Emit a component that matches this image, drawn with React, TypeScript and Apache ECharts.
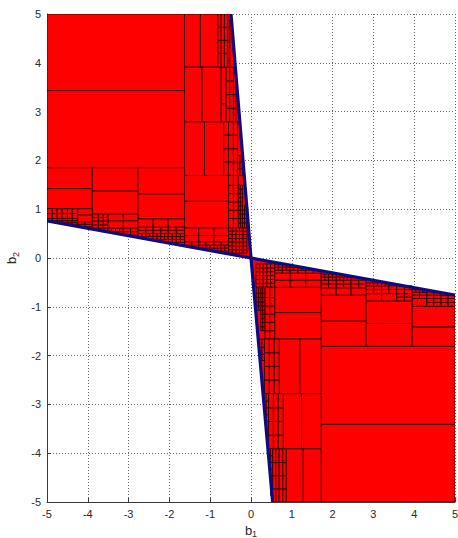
import React, { useEffect, useRef } from "react";
import * as echarts from "echarts";

type Box = [number, number, number, number]; // x1, x2, y1, y2
type Grid = { xs: number[]; ys: number[] };

const axisMin = -5;
const axisMax = 5;
const axisStep = 1;

// feasible regions (outer boundary)
const upperLeftRegion: [number, number][] = [[-5, 5], [-0.49, 5], [0, 0], [-5, 0.76]];
const lowerRightRegion: [number, number][] = [[5, -5], [0.53, -5], [0, 0], [5, -0.76]];

// boundary (blue) segments
const boundarySegments: [number, number][][] = [
  [[-5, 0.76], [0, 0]],
  [[-0.49, 5], [0, 0]],
  [[5, -0.76], [0, 0]],
  [[0.53, -5], [0, 0]],
];

const upperLeftBoxes: Box[] = [
  [-5, -1.63, 3.43, 5],
  [-5, -1.63, 1.85, 3.43],
  [-5, -3.89, 1.42, 1.85],
  [-5, -3.89, 1.01, 1.42],
  [-3.89, -2.77, 1.37, 1.85],
  [-3.89, -2.77, 0.9, 1.37],
  [-2.77, -1.63, 1.31, 1.85],
  [-2.77, -1.63, 0.8, 1.31],
  [-4.25, -3.89, 0.88, 1.01],
  [-4.25, -3.89, 0.74, 0.88],
  [-3.51, -3.13, 0.76, 0.9],
  [-3.13, -2.77, 0.76, 0.9],
  [-3.51, -3.13, 0.61, 0.76],
  [-3.13, -2.77, 0.61, 0.76],
  [-2.77, -2.4, 0.63, 0.8],
  [-2.4, -2.03, 0.63, 0.8],
  [-2.03, -1.63, 0.63, 0.8],
  [-1.63, -1.28, 0.46, 0.62],
  [-1.28, -0.91, 0.46, 0.62],
  [-0.91, -0.55, 0.46, 0.62],
  [-1.63, -1.28, 0.33, 0.46],
  [-1.28, -0.91, 0.33, 0.46],
  [-0.91, -0.55, 0.33, 0.46],
  [-1.63, -1.24, 3.91, 5],
  [-1.24, -0.81, 3.91, 5],
  [-1.63, -1.2, 2.79, 3.91],
  [-1.2, -0.73, 2.79, 3.91],
  [-0.73, -0.61, 3.16, 3.91],
  [-0.73, -0.61, 2.79, 3.16],
  [-1.63, -1.14, 1.69, 2.79],
  [-1.14, -0.67, 1.69, 2.79],
  [-1.63, -0.55, 1.16, 1.69],
  [-1.63, -0.55, 0.62, 1.16],
];

const upperLeftGrids: Grid[] = [
  { xs: [-5, -4.87, -4.75, -4.63, -4.5, -4.38, -4.25], ys: [0.81, 0.91, 1.01] },
  { xs: [-5, -4.87, -4.75, -4.63, -4.5, -4.38, -4.25], ys: [0.76, 0.81] },
  { xs: [-4.75, -4.63, -4.5, -4.38, -4.25], ys: [0.72, 0.76] },
  { xs: [-4.5, -4.38, -4.25], ys: [0.68, 0.72] },
  { xs: [-4.25, -4.07, -3.89], ys: [0.64, 0.69, 0.74] },
  { xs: [-3.89, -3.74, -3.62, -3.51], ys: [0.61, 0.68, 0.76, 0.83, 0.9] },
  { xs: [-3.7, -3.6, -3.51, -3.42, -3.32, -3.22, -3.13], ys: [0.54, 0.61] },
  { xs: [-3.13, -2.95, -2.77], ys: [0.47, 0.54, 0.61] },
  { xs: [-2.77, -2.58, -2.4, -2.21, -2.03, -1.83, -1.63], ys: [0.5, 0.565, 0.63] },
  { xs: [-2.77, -2.68, -2.58, -2.49, -2.4, -2.3, -2.21, -2.12, -2.03, -1.93, -1.83, -1.73, -1.63], ys: [0.44, 0.5] },
  { xs: [-2.4, -2.3, -2.21, -2.12, -2.03, -1.93, -1.83, -1.73, -1.63], ys: [0.38, 0.44] },
  { xs: [-2.03, -1.93, -1.83, -1.73, -1.63], ys: [0.32, 0.38] },
  { xs: [-1.63, -1.45, -1.28, -1.1, -0.91, -0.73, -0.55], ys: [0.26, 0.33] },
  { xs: [-1.28, -1.19, -1.1, -1.0, -0.91, -0.82, -0.73, -0.64, -0.55], ys: [0.2, 0.26] },
  { xs: [-0.91, -0.82, -0.73, -0.64, -0.55], ys: [0.14, 0.2] },
  { xs: [-0.55, -0.46, -0.37, -0.28, -0.19, -0.1], ys: [0.1, 0.17, 0.25, 0.33, 0.4, 0.48, 0.55, 0.62] },
  { xs: [-0.55, -0.43, -0.31], ys: [0.62, 0.81, 0.98, 1.15, 1.32, 1.49, 1.69] },
  { xs: [-0.31, -0.26, -0.21], ys: [0.62, 0.72, 0.81, 0.9, 0.98, 1.07, 1.15, 1.24, 1.32, 1.41, 1.49] },
  { xs: [-0.21, -0.16, -0.11], ys: [0.62, 0.72, 0.81, 0.9, 0.98, 1.07] },
  { xs: [-0.81, -0.73, -0.65, -0.57], ys: [3.91, 4.19, 4.46, 4.73, 5] },
  { xs: [-0.57, -0.52], ys: [3.91, 4.05, 4.19, 4.32, 4.46, 4.6, 4.73, 4.87] },
  { xs: [-0.61, -0.52, -0.43], ys: [2.79, 3.07, 3.35, 3.63, 3.91] },
  { xs: [-0.43, -0.37], ys: [2.79, 2.93, 3.07, 3.21, 3.35, 3.49] },
  { xs: [-0.67, -0.55, -0.43, -0.33], ys: [1.69, 1.97, 2.24, 2.52, 2.79] },
  { xs: [-0.33, -0.27, -0.21], ys: [1.69, 1.83, 1.97, 2.1] },
];

const lowerRightBoxes: Box[] = [
  [1.72, 5, -3.41, -1.81],
  [1.72, 5, -5, -3.41],
  [1.72, 2.82, -1.81, -1.29],
  [1.72, 2.82, -1.29, -0.76],
  [1.72, 2.09, -0.76, -0.61],
  [2.09, 2.45, -0.76, -0.61],
  [2.45, 2.82, -0.76, -0.61],
  [2.82, 3.95, -1.81, -1.34],
  [2.82, 3.95, -1.34, -0.88],
  [2.82, 3.2, -0.88, -0.73],
  [3.2, 3.57, -0.88, -0.73],
  [3.95, 5, -1.81, -1.41],
  [3.95, 5, -1.41, -0.99],
  [3.95, 4.31, -0.99, -0.83],
  [0.58, 1.72, -1.12, -0.6],
  [0.58, 1.72, -1.66, -1.12],
  [0.58, 0.96, -0.6, -0.455],
  [0.96, 1.34, -0.6, -0.455],
  [1.34, 1.72, -0.6, -0.455],
  [0.58, 0.96, -0.455, -0.31],
  [0.96, 1.34, -0.455, -0.31],
  [1.34, 1.72, -0.455, -0.31],
  [0.69, 1.2, -2.78, -1.66],
  [1.2, 1.72, -2.78, -1.66],
  [0.79, 1.24, -3.91, -2.78],
  [1.24, 1.72, -3.91, -2.78],
  [0.86, 1.28, -5, -3.91],
  [1.28, 1.72, -5, -3.91],
];

const lowerRightGrids: Grid[] = [
  { xs: [1.72, 1.9, 2.09, 2.27, 2.45, 2.64, 2.82], ys: [-0.61, -0.53, -0.455] },
  { xs: [1.72, 1.81, 1.9, 2.0, 2.09, 2.18, 2.27, 2.36, 2.45], ys: [-0.455, -0.39] },
  { xs: [1.72, 1.81, 1.9, 2.0, 2.09], ys: [-0.39, -0.33] },
  { xs: [3.57, 3.76, 3.95], ys: [-0.88, -0.8, -0.73] },
  { xs: [2.82, 3.01, 3.2, 3.38, 3.57, 3.76, 3.95], ys: [-0.73, -0.645, -0.57] },
  { xs: [2.82, 2.91, 3.01, 3.1, 3.2, 3.29, 3.38], ys: [-0.57, -0.51] },
  { xs: [4.31, 4.48, 4.66, 4.83, 5], ys: [-0.99, -0.91, -0.83] },
  { xs: [3.95, 4.13, 4.31, 4.48, 4.66], ys: [-0.83, -0.76, -0.7] },
  { xs: [4.66, 4.83, 5], ys: [-0.83, -0.77] },
  { xs: [3.95, 4.04, 4.13, 4.22, 4.31], ys: [-0.7, -0.65] },
  { xs: [0.58, 0.77, 0.96, 1.15, 1.34, 1.53, 1.72], ys: [-0.31, -0.25] },
  { xs: [0.58, 0.67, 0.77, 0.86, 0.96, 1.05, 1.15, 1.24, 1.34], ys: [-0.25, -0.19] },
  { xs: [0.58, 0.67, 0.77, 0.86, 0.96], ys: [-0.19, -0.13] },
  { xs: [0.12, 0.21, 0.3, 0.39, 0.48, 0.58], ys: [-0.6, -0.52, -0.44, -0.36, -0.28, -0.2, -0.12] },
  { xs: [0.34, 0.46, 0.58], ys: [-1.66, -1.49, -1.32, -1.15, -0.98, -0.81, -0.6] },
  { xs: [0.24, 0.29, 0.34], ys: [-1.49, -1.41, -1.32, -1.24, -1.15, -1.07, -0.98, -0.9, -0.81, -0.72, -0.6] },
  { xs: [0.14, 0.19, 0.24], ys: [-1.07, -0.98, -0.9, -0.81, -0.72, -0.6] },
  { xs: [0.33, 0.45, 0.57, 0.69], ys: [-2.78, -2.5, -2.22, -1.94, -1.66] },
  { xs: [0.21, 0.27, 0.33], ys: [-2.1, -1.97, -1.83, -1.66] },
  { xs: [0.43, 0.55, 0.67, 0.79], ys: [-3.91, -3.63, -3.35, -3.07, -2.78] },
  { xs: [0.37, 0.43], ys: [-3.49, -3.35, -3.21, -3.07, -2.93, -2.78] },
  { xs: [0.53, 0.61, 0.69, 0.78, 0.86], ys: [-5, -4.73, -4.46, -4.19, -3.91] },
  { xs: [0.48, 0.53], ys: [-4.87, -4.73, -4.6, -4.46, -4.32, -4.19, -4.05, -3.91] },
];

function cellsFromGrids(grids: Grid[]): Box[] {
  const out: Box[] = [];
  grids.forEach((g) => {
    for (let i = 0; i < g.xs.length - 1; i++) {
      for (let j = 0; j < g.ys.length - 1; j++) {
        out.push([g.xs[i], g.xs[i + 1], g.ys[j], g.ys[j + 1]]);
      }
    }
  });
  return out;
}

const FONT = "'Liberation Sans', Arial, sans-serif";
const TEXT_COLOR = "#2a2a2a";

const nameRich = {
  b: { fontSize: 13, fontFamily: FONT, color: TEXT_COLOR, lineHeight: 17, verticalAlign: "middle" },
  s: { fontSize: 9, fontFamily: FONT, color: TEXT_COLOR, lineHeight: 17, verticalAlign: "bottom" },
};

export default function App() {
  const ref = useRef<HTMLDivElement>(null);
  useEffect(() => {
    document.body.style.margin = "0";
    if (!ref.current) return;
    const chart = echarts.init(ref.current, undefined, { renderer: "svg" });
    const regions = [upperLeftRegion, lowerRightRegion];
    const allBoxes: Box[] = [
      ...upperLeftBoxes,
      ...lowerRightBoxes,
      ...cellsFromGrids(upperLeftGrids),
      ...cellsFromGrids(lowerRightGrids),
    ];

    const boxRender = (_params: any, api: any) => {
      const p1 = api.coord([api.value(0), api.value(3)]);
      const p2 = api.coord([api.value(1), api.value(2)]);
      return {
        type: "rect",
        shape: { x: p1[0], y: p1[1], width: p2[0] - p1[0], height: p2[1] - p1[1] },
        style: { fill: "#ff0000", stroke: "#1a0000", lineWidth: 0.8 },
      };
    };

    const axisCommon = {
      type: "value" as const,
      min: axisMin,
      max: axisMax,
      interval: axisStep,
      axisLine: { show: true, onZero: false, lineStyle: { color: "#3a3a3a", width: 1 } },
      axisTick: { show: true, inside: true, length: 4, lineStyle: { color: "#3a3a3a" } },
      axisLabel: { color: TEXT_COLOR, fontSize: 11, fontFamily: FONT, margin: 6 },
      splitLine: { show: true, lineStyle: { color: "#6a6a6a", width: 1, type: [1, 2] as any } },
    };

    chart.setOption({
      animation: false,
      grid: { left: 47, right: 3, top: 14, bottom: 36, containLabel: false, outerBoundsMode: "none" },
      xAxis: {
        ...axisCommon,
        name: "{b|b}{s|1}",
        nameLocation: "middle",
        nameGap: 17,
        nameTextStyle: { rich: nameRich },
      },
      yAxis: {
        ...axisCommon,
        name: "{b|b}{s|2}",
        nameLocation: "middle",
        nameGap: 24,
        nameTextStyle: { rich: nameRich },
      },
      series: [
        {
          type: "custom",
          clip: true,
          data: regions.map((_, i) => [i, 0]),
          encode: { x: 0, y: 1 },
          renderItem: (params: any, api: any) => {
            const pts = regions[params.dataIndex].map((p) => api.coord(p));
            return { type: "polygon", shape: { points: pts }, style: { fill: "#ff0000", stroke: "none" } };
          },
          z: 1,
        },
        {
          type: "custom",
          clip: true,
          data: allBoxes,
          dimensions: ["x1", "x2", "y1", "y2"],
          encode: { x: [0, 1], y: [2, 3] },
          renderItem: boxRender,
          z: 2,
        },
        {
          type: "custom",
          clip: true,
          data: boundarySegments.map((_, i) => [0, i - 2]),
          encode: { x: 0, y: 1 },
          renderItem: (params: any, api: any) => {
            const seg = boundarySegments[params.dataIndex];
            const pts = seg.map((p) => api.coord(p));
            return {
              type: "polyline",
              shape: { points: pts },
              style: { stroke: "#0c0c80", lineWidth: 3.2, fill: "none", lineCap: "round" },
            };
          },
          z: 3,
        },
      ],
    });
    return () => chart.dispose();
  }, []);
  return <div ref={ref} style={{ width: 458, height: 538 }} />;
}
